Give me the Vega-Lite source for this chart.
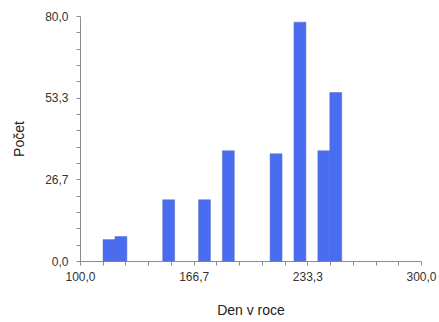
{
  "$schema": "https://vega.github.io/schema/vega-lite/v6.json",
  "width": 341,
  "height": 245,
  "autosize": {"type": "none"},
  "padding": {"left": 80, "top": 16, "right": 18, "bottom": 61},
  "background": "white",
  "data": {
    "values": [
      {"start": 113.5, "end": 120.5, "count": 7},
      {"start": 120.5, "end": 127.5, "count": 8},
      {"start": 148.5, "end": 155.5, "count": 20},
      {"start": 169.5, "end": 176.5, "count": 20},
      {"start": 183.5, "end": 190.5, "count": 36},
      {"start": 211.5, "end": 218.5, "count": 35},
      {"start": 225.5, "end": 232.5, "count": 78},
      {"start": 239.5, "end": 246.5, "count": 36},
      {"start": 246.5, "end": 253.5, "count": 55}
    ]
  },
  "mark": {"type": "rect", "color": "#4a6cf0", "stroke": "#5b6fc0", "strokeWidth": 0.5},
  "encoding": {
    "x": {
      "field": "start",
      "type": "quantitative",
      "scale": {"domain": [100, 300], "nice": false, "zero": false},
      "axis": {
        "title": "Den v roce",
        "values": [100, 113.3333, 126.6667, 140, 153.3333, 166.6667, 180, 193.3333, 206.6667, 220, 233.3333, 246.6667, 260, 273.3333, 286.6667, 300],
        "labelExpr": "abs((datum.value - 100) / 66.6667 - round((datum.value - 100) / 66.6667)) < 0.01 ? replace(format(datum.value, '.1f'), '.', ',') : ''",
        "labelPadding": 6,
        "titlePadding": 21,
        "labelOverlap": false,
        "labelFlush": false
      }
    },
    "x2": {"field": "end"},
    "y": {
      "field": "count",
      "type": "quantitative",
      "scale": {"domain": [0, 80], "nice": false},
      "axis": {
        "title": "Počet",
        "values": [0, 5.3333, 10.6667, 16, 21.3333, 26.6667, 32, 37.3333, 42.6667, 48, 53.3333, 58.6667, 64, 69.3333, 74.6667, 80],
        "labelExpr": "abs(datum.value / 26.6667 - round(datum.value / 26.6667)) < 0.01 ? replace(format(datum.value, '.1f'), '.', ',') : ''",
        "labelPadding": 8,
        "titlePadding": 18,
        "labelOverlap": false,
        "labelFlush": false
      }
    }
  },
  "config": {
    "view": {"stroke": null},
    "axis": {
      "grid": false,
      "domainColor": "#8c8c8c",
      "tickColor": "#8c8c8c",
      "tickSize": 4,
      "labelFont": "Liberation Sans",
      "labelFontSize": 12,
      "labelColor": "#333333",
      "titleFont": "Liberation Sans",
      "titleFontSize": 14,
      "titleFontWeight": "normal",
      "titleColor": "#222222"
    }
  }
}
